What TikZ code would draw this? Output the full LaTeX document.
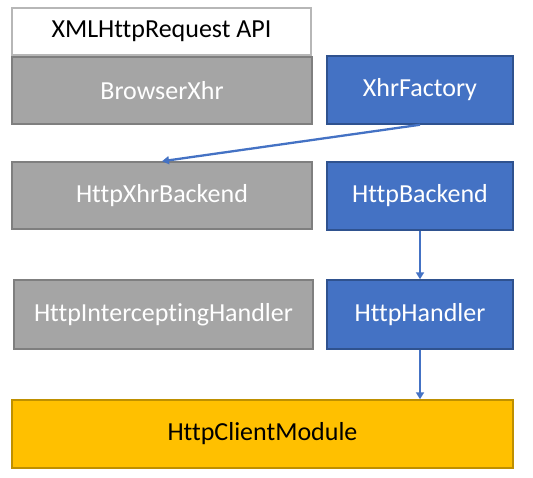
\documentclass[tikz,border=0pt]{standalone}
\usepackage{fontspec}
\setmainfont[Ligatures=NoCommon]{Carlito}
\usetikzlibrary{arrows.meta,positioning}
\definecolor{boxgray}{HTML}{A5A5A5}
\definecolor{linegray}{HTML}{7F7F7F}
\definecolor{boxblue}{HTML}{4472C4}
\definecolor{lineblue}{HTML}{2F528F}
\definecolor{boxgold}{HTML}{FFC000}
\definecolor{linegold}{HTML}{BF9000}
\begin{document}
\begin{tikzpicture}[x=1pt,y=-1pt,thick,
  box/.style={rectangle,draw,line width=1.5pt,inner sep=0pt,font=\fontsize{26}{30}\selectfont},
  whitebox/.style={box,draw=boxgray!80,fill=white,text=black},
  graybox/.style={box,draw=linegray,fill=boxgray,text=white},
  bluebox/.style={box,draw=lineblue,fill=boxblue,text=white},
  goldbox/.style={box,draw=linegold,fill=boxgold,text=black},
  link/.style={draw=boxblue,line width=2.3pt,-{Triangle[width=8pt,length=7pt]}}]
\useasboundingbox (0,0) rectangle (533,477);
\node[whitebox,minimum width=299pt,minimum height=47pt] (api) at (161.5,31.5) {XMLHttpRequest API};
\node[graybox,minimum width=300pt,minimum height=67pt] (browser) at (162,90.5) {BrowserXhr};
\node[bluebox,minimum width=186pt,minimum height=68pt] (factory) at (420,90) {XhrFactory};
\node[graybox,minimum width=300pt,minimum height=67pt] (xhrbackend) at (162,195.5) {HttpXhrBackend};
\node[bluebox,minimum width=186pt,minimum height=68pt] (backend) at (420,196) {HttpBackend};
\node[graybox,minimum width=299pt,minimum height=69pt] (intercept) at (163.5,314.5) {HttpInterceptingHandler};
\node[bluebox,minimum width=186pt,minimum height=69pt] (handler) at (420,314.5) {HttpHandler};
\node[goldbox,minimum width=501pt,minimum height=68pt] (module) at (262.5,434) {HttpClientModule};
\path[link] (factory.south) -- (xhrbackend.north);
\path[link] (backend.south) -- (handler.north);
\path[link] (handler.south) -- (handler.south |- module.north);
\end{tikzpicture}
\end{document}
